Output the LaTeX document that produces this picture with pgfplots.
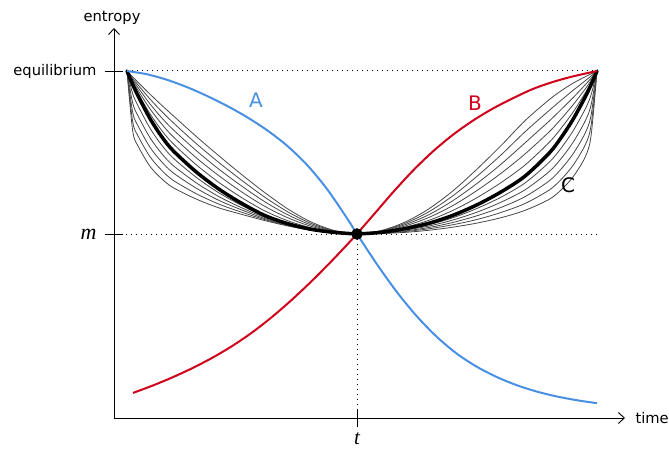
\documentclass[border=0pt]{standalone}
\usepackage{pgfplots}
\pgfplotsset{compat=1.18}
\usepackage{pgfplotstable}
\usetikzlibrary{arrows.meta}
\usepackage{fontspec}
\setmainfont{DejaVu Sans}
\newfontfamily\lserif{Liberation Serif}
\definecolor{cA}{RGB}{74,144,226}
\definecolor{cB}{RGB}{208,2,27}
\pgfplotstableread{
x o b1 b2 b3 b4 k c1 c2 c3 c4 i
127 1 1 1 1 1 1 1 1 1 1 1
132.75 .63 .687 .744 .802 .859 .916 .926 .935 .945 .954 .964
138.5 .535 .596 .658 .719 .781 .842 .859 .876 .894 .911 .928
150 .415 .474 .532 .591 .649 .708 .738 .768 .798 .828 .858
161.5 .34 .392 .444 .495 .547 .599 .637 .676 .714 .753 .791
173 .285 .330 .376 .421 .467 .512 .555 .598 .641 .684 .727
196 .215 .248 .282 .315 .349 .382 .426 .469 .513 .556 .600
219 .16 .183 .206 .229 .252 .275 .316 .357 .397 .438 .479
242 .12 .133 .147 .160 .174 .187 .222 .257 .293 .328 .363
265 .082 .088 .094 .101 .107 .113 .141 .169 .197 .225 .253
288 .049 .052 .055 .057 .060 .063 .081 .099 .117 .135 .153
311 .023 .024 .025 .027 .028 .029 .038 .047 .056 .065 .074
334 .007 .008 .008 .009 .009 .010 .012 .015 .017 .020 .022
357 0 0 0 0 0 0 0 0 0 0 0
}\leftC
\pgfplotstableread{
x o b1 b2 b3 b4 k c1 c2 c3 c4 i
597 1 1 1 1 1 1 1 1 1 1 1
591 .60 .663 .726 .789 .852 .915 .928 .942 .955 .969 .982
585 .47 .544 .617 .691 .764 .838 .863 .888 .914 .939 .964
573 .35 .421 .491 .562 .632 .703 .747 .792 .836 .881 .925
561 .27 .334 .398 .462 .526 .590 .648 .705 .763 .820 .878
549 .212 .269 .325 .382 .439 .495 .561 .626 .692 .757 .823
525 .145 .187 .229 .271 .313 .355 .423 .491 .559 .627 .695
501 .10 .132 .163 .195 .226 .258 .315 .372 .428 .485 .542
477 .067 .089 .112 .134 .157 .179 .223 .267 .310 .354 .398
453 .042 .057 .071 .086 .10 .115 .145 .175 .205 .235 .265
429 .023 .032 .040 .049 .057 .066 .084 .102 .119 .137 .155
405 .01 .015 .019 .024 .028 .033 .041 .049 .057 .065 .073
381 .003 .004 .006 .007 .009 .010 .012 .014 .017 .019 .021
357 0 0 0 0 0 0 0 0 0 0 0
}\rightC
\begin{document}
\begin{tikzpicture}
\useasboundingbox (0,0) rectangle (669pt,452pt);
\begin{axis}[
  scale only axis, width=511pt, height=390pt,
  anchor=south west, at={(114pt,34pt)},
  xmin=114, xmax=625, ymin=-1.1288, ymax=1.2638,
  axis lines=left, clip=false,
  axis line style={line width=0.9pt, -{Straight Barb[length=6pt,width=11pt,line width=0.9pt]}},
  xtick={357}, xticklabels={{\lserif\fontsize{21}{23}\selectfont\itshape t}},
  ytick={0,1}, yticklabels={{\lserif\fontsize{22}{24}\selectfont\itshape m},equilibrium},
  tick align=center, major tick length=18pt,
  tick style={line width=0.9pt, black},
  tick label style={font=\fontsize{14.7}{17}\selectfont},
  yticklabel style={xshift=-5pt},
  xticklabel style={yshift=-4pt, inner sep=1pt},
  every axis x label/.style={at={(axis description cs:1,0)}, anchor=west, xshift=7pt, font=\fontsize{14.7}{17}\selectfont},
  every axis y label/.style={at={(axis description cs:0,1)}, anchor=south, xshift=-2pt, font=\fontsize{14.7}{17}\selectfont},
  xlabel={time}, ylabel={entropy},
]
\addplot[line width=1pt, dash pattern=on 1pt off 4pt] coordinates {(127,1) (597,1)};
\addplot[line width=1pt, dash pattern=on 1pt off 4pt] coordinates {(121,0) (597,0)};
\addplot[line width=1pt, dash pattern=on 1pt off 4pt] coordinates {(357,0) (357,-1.1288)};
\pgfplotsinvokeforeach{o,b1,b2,b3,b4,c1,c2,c3,c4,i}{
  \addplot[line width=0.8pt, black!72, smooth, line cap=round] table[x=x,y=#1]{\leftC};
  \addplot[line width=0.8pt, black!72, smooth, line cap=round] table[x=x,y=#1]{\rightC};
}
\addplot[line width=3.5pt, black, smooth, line cap=round] table[x=x,y=k]{\leftC};
\addplot[line width=3.5pt, black, smooth, line cap=round] table[x=x,y=k]{\rightC};
\addplot[line width=2pt, cA, smooth] coordinates {(127,1) (147,.98) (167,.946) (187,.901) (207,.847) (227,.786) (247,.717) (267,.637) (287,.542) (307,.424) (327,.276) (347,.097) (357,0) (377,-.186) (397,-.357) (417,-.506) (437,-.632) (457,-.735) (477,-.815) (497,-.878) (517,-.928) (537,-.967) (557,-.997) (577,-1.020) (597,-1.038)};
\addplot[line width=2pt, cB, smooth] coordinates {(133,-.975) (153,-.929) (173,-.878) (193,-.821) (213,-.757) (233,-.684) (253,-.600) (273,-.504) (293,-.397) (313,-.281) (333,-.157) (353,-.026) (373,.114) (393,.256) (413,.389) (433,.507) (453,.609) (473,.696) (493,.770) (513,.833) (533,.890) (553,.933) (573,.967) (597,1)};
\addplot[only marks, mark=*, mark size=5.5pt, black] coordinates {(357,0)};
\node[text=cA, font=\fontsize{20}{24}\selectfont] at (axis cs:256,.822) {A};
\node[text=cB, font=\fontsize{20}{24}\selectfont] at (axis cs:475,.804) {B};
\node[text=black, font=\fontsize{20}{24}\selectfont] at (axis cs:568,.30) {C};
\end{axis}
\end{tikzpicture}
\end{document}
